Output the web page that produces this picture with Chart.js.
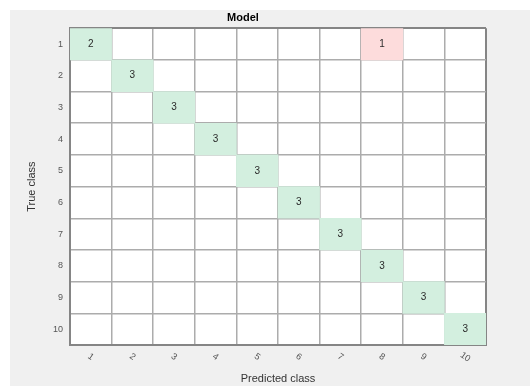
<!DOCTYPE html>
<html>
<head>
<meta charset="utf-8">
<script src="https://cdn.jsdelivr.net/npm/chart.js@4/dist/chart.umd.min.js"></script>
<style>
  html, body { margin: 0; padding: 0; background: #ffffff; }
  #wrap { width: 530px; height: 386px; position: relative; }
</style>
</head>
<body>
<div id="wrap"><canvas id="cm" width="530" height="386"></canvas></div>
<script>
// Class labels shared by both axes
const classes = ['1', '2', '3', '4', '5', '6', '7', '8', '9', '10'];

// Confusion counts, one row per true class (columns = predicted class)
const trueClass1  = [2, 0, 0, 0, 0, 0, 0, 1, 0, 0];
const trueClass2  = [0, 3, 0, 0, 0, 0, 0, 0, 0, 0];
const trueClass3  = [0, 0, 3, 0, 0, 0, 0, 0, 0, 0];
const trueClass4  = [0, 0, 0, 3, 0, 0, 0, 0, 0, 0];
const trueClass5  = [0, 0, 0, 0, 3, 0, 0, 0, 0, 0];
const trueClass6  = [0, 0, 0, 0, 0, 3, 0, 0, 0, 0];
const trueClass7  = [0, 0, 0, 0, 0, 0, 3, 0, 0, 0];
const trueClass8  = [0, 0, 0, 0, 0, 0, 0, 3, 0, 0];
const trueClass9  = [0, 0, 0, 0, 0, 0, 0, 0, 3, 0];
const trueClass10 = [0, 0, 0, 0, 0, 0, 0, 0, 0, 3];

const matrix = [trueClass1, trueClass2, trueClass3, trueClass4, trueClass5,
                trueClass6, trueClass7, trueClass8, trueClass9, trueClass10];

// Each non-empty cell becomes a floating horizontal bar spanning its column
const correctCells = [];
const wrongCells = [];
matrix.forEach((row, r) => {
  row.forEach((v, c) => {
    if (v > 0) {
      const cell = { y: classes[r], x: [c + 0.5, c + 1.5], count: v };
      (r === c ? correctCells : wrongCells).push(cell);
    }
  });
});

const FRAME = '#858585';
const GRID = '#acacac';

const backgroundPlugin = {
  id: 'panelBackground',
  beforeDraw(chart) {
    const { ctx, chartArea: a } = chart;
    ctx.save();
    ctx.fillStyle = '#ffffff';
    ctx.fillRect(0, 0, chart.width, chart.height);
    ctx.fillStyle = '#f0f0f0';
    ctx.fillRect(10, 10, chart.width - 10, chart.height - 10);
    ctx.fillStyle = '#ffffff';
    ctx.fillRect(a.left, a.top, a.right - a.left, a.bottom - a.top);
    ctx.restore();
  }
};

// Cell counts and rotated predicted-class labels
const labelPlugin = {
  id: 'cellLabels',
  afterDraw(chart) {
    const { ctx } = chart;
    const xs = chart.scales.x, ys = chart.scales.y;
    ctx.save();
    ctx.font = '10px "Liberation Sans", Arial, sans-serif';
    ctx.fillStyle = '#2a2a2a';
    ctx.textAlign = 'center';
    ctx.textBaseline = 'middle';
    matrix.forEach((row, r) => {
      row.forEach((v, c) => {
        if (v > 0) {
          ctx.fillText(String(v), xs.getPixelForValue(c + 1), ys.getPixelForValue(r));
        }
      });
    });
    ctx.font = '9px "Liberation Sans", Arial, sans-serif';
    ctx.fillStyle = '#555555';
    classes.forEach((lab, i) => {
      ctx.save();
      ctx.translate(xs.getPixelForValue(i + 1), xs.top + 12);
      ctx.rotate(35 * Math.PI / 180);
      ctx.fillText(lab, 0, 0);
      ctx.restore();
    });
    ctx.restore();
  }
};

new Chart(document.getElementById('cm'), {
  type: 'bar',
  data: {
    datasets: [
      { label: 'correct', data: correctCells, backgroundColor: '#d3efdf', borderWidth: 0,
        barPercentage: 1, categoryPercentage: 1, grouped: false },
      { label: 'incorrect', data: wrongCells, backgroundColor: '#fddcdc', borderWidth: 0,
        barPercentage: 1, categoryPercentage: 1, grouped: false }
    ]
  },
  options: {
    indexAxis: 'y',
    responsive: false,
    animation: false,
    layout: { padding: { left: 0, right: 44, top: 0, bottom: 0 } },
    plugins: {
      legend: { display: false },
      tooltip: { enabled: false },
      title: {
        display: true,
        text: 'Model',
        color: '#000000',
        font: { family: '"Liberation Sans", Arial, sans-serif', size: 11, weight: 'bold' },
        padding: { top: 11, bottom: 4 }
      }
    },
    scales: {
      x: {
        type: 'linear',
        min: 0.5,
        max: classes.length + 0.5,
        z: 1,
        afterBuildTicks(scale) {
          scale.ticks = classes.map((_, i) => ({ value: i + 0.5 }))
            .concat([{ value: classes.length + 0.5 }]);
        },
        afterFit(scale) { scale.height = 41; },
        ticks: { display: false },
        grid: {
          drawTicks: false,
          lineWidth: (ctx) => (ctx.tick && (ctx.tick.value === 0.5 || ctx.tick.value === classes.length + 0.5)) ? 2 : 1.5,
          color: (ctx) => (ctx.tick && (ctx.tick.value === 0.5 || ctx.tick.value === classes.length + 0.5)) ? FRAME : GRID
        },
        border: { display: true, color: FRAME, width: 2 },
        title: {
          display: true,
          text: 'Predicted class',
          color: '#333333',
          font: { family: '"Liberation Sans", Arial, sans-serif', size: 11 },
          padding: { top: 0, bottom: 0 }
        }
      },
      y: {
        type: 'category',
        labels: classes,
        offset: true,
        z: 1,
        afterFit(scale) { scale.width = 70; },
        ticks: {
          color: '#555555',
          padding: 7,
          font: { family: '"Liberation Sans", Arial, sans-serif', size: 9 }
        },
        grid: {
          offset: true,
          drawTicks: false,
          lineWidth: (ctx) => (ctx.index === 0 || ctx.index === classes.length) ? 2 : 1.5,
          color: (ctx) => (ctx.index === 0 || ctx.index === classes.length) ? FRAME : GRID
        },
        border: { display: true, color: FRAME, width: 2 },
        title: {
          display: true,
          text: 'True class',
          color: '#333333',
          font: { family: '"Liberation Sans", Arial, sans-serif', size: 11 },
          padding: { top: 25, bottom: 0 }
        }
      }
    }
  },
  plugins: [backgroundPlugin, labelPlugin]
});
</script>
</body>
</html>
